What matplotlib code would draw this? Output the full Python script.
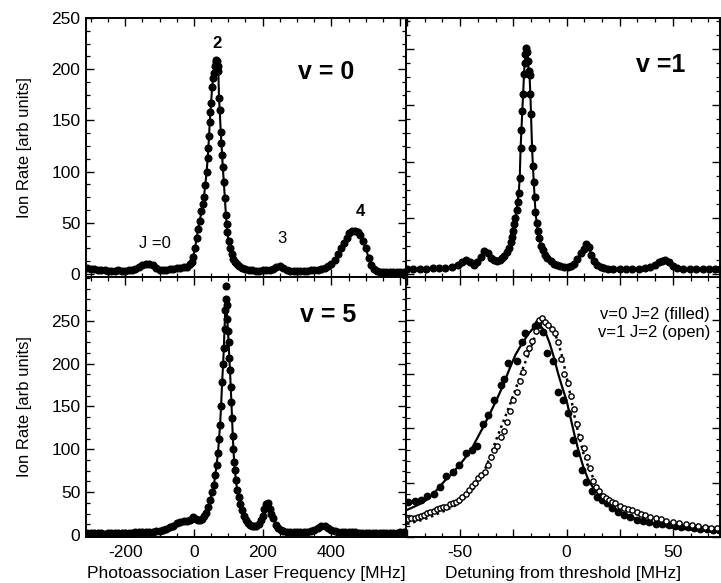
import numpy as np
import matplotlib
matplotlib.use('Agg')
import matplotlib.pyplot as plt
from matplotlib.ticker import MultipleLocator, FuncFormatter

plt.rcParams['font.family'] = ['Liberation Sans', 'DejaVu Sans']

# ========== data ==========
# v = 0 spectrum (top left), x in MHz
v0_x = [-310, -300, -290, -280, -270, -260, -250, -240, -230, -220, -210, -200, -190, -180, -170,
        -160, -150, -140, -130, -120, -110, -100, -90, -80, -70, -60, -50, -40, -30, -20, -12, -7,
        -2, 3, 8, 12, 17, 22, 26, 29, 33, 37, 40, 42, 44, 46, 48, 50, 53, 56, 58, 61, 63, 65, 67,
        69, 71, 73, 75, 78, 80, 82, 84, 87, 90, 93, 95, 97, 101, 105, 110, 115, 120, 124, 130, 140,
        150, 160, 170, 180, 190, 200, 210, 220, 230, 240, 250, 260, 270, 280, 290, 300, 310, 320,
        330, 340, 350, 360, 370, 380, 390, 400, 410, 420, 428, 436, 444, 452, 460, 468, 476, 484,
        492, 500, 508, 516, 524, 532, 540, 550, 560, 570, 580, 590, 600, 610]
v0_y = [6, 5, 5, 4, 4, 4, 3, 3, 3, 4, 3, 3, 4, 4, 5,
        7, 9, 10, 10, 9, 6, 4, 4, 4, 5, 5, 6, 6, 7, 7, 10, 12,
        17, 25, 35, 44, 52, 61, 68, 75, 87, 100, 113, 123, 135, 148, 158, 167, 183, 191, 196, 203, 207, 209, 208,
        203, 198, 172, 160, 139, 128, 116, 104, 90, 74, 58, 49, 41, 32, 25, 19, 15, 12, 10, 8, 6,
        5, 4, 4, 3, 3, 4, 4, 4, 5, 7, 8, 6, 4, 3, 3, 3, 3, 3,
        3, 4, 4, 4, 5, 6, 8, 10, 14, 19, 25, 30, 35, 40, 42, 42, 41, 38,
        32, 25, 16, 9, 5, 3, 2, 2, 2, 2, 2, 2, 2, 2]

# v = 1 spectrum (top right), detuning in MHz
v1_x = [-75, -72, -69, -66, -63, -60, -57, -54, -51, -49, -47.3, -45.5, -43.7, -42, -40.3, -38.7, -37,
        -35.5, -34, -32.7, -31.5, -30.3, -29.2, -28, -27, -26.2, -25.6, -25, -24.5, -24, -23.5, -23,
        -22.5, -22, -21.6, -21.2, -20.8, -20.4, -20, -19.7, -19.3, -18.9, -18.5, -18.1, -17.8, -17.4,
        -17, -16.7, -16.2, -15.8, -15.4, -15, -14.6, -14, -13.5, -12.8, -12, -11, -10, -9, -7.5, -6,
        -4.4, -3, -1.3, 0.5, 2, 3.5, 5, 6.6, 8, 9.3, 10.5, 11.6, 13, 14.5, 16, 17.5, 19.5, 22, 25, 28,
        31, 34, 37, 39.5, 41.5, 43.5, 45, 46.5, 48, 50, 52, 55, 58, 61, 64, 67, 70, 72]
v1_y = [4, 4, 4, 4, 5, 5, 5, 6, 8, 10, 12, 10, 8, 10, 15, 20, 18,
        14, 12, 11, 12, 14, 16, 19, 23, 28, 33, 38, 44, 50, 57, 64,
        72, 85, 112, 128, 145, 160, 178, 188, 196, 201, 198, 190, 181, 177,
        160, 142, 112, 96, 82, 68, 55, 45, 38, 32, 25, 21, 17, 14, 11, 9,
        8, 7, 6, 6, 7, 9, 13, 18, 22, 26, 24, 17, 11, 8, 6, 5, 4, 4, 4, 4,
        4, 4, 5, 6, 8, 10, 11, 12, 10, 7, 5, 4, 4, 4, 4, 4, 4, 4]

# v = 5 spectrum (bottom left), x in MHz
v5_x = [-310, -300, -290, -280, -270, -260, -250, -240, -230, -220, -210, -200, -190, -180, -170, -160,
        -150, -140, -130, -120, -110, -100, -90, -80, -70, -60, -50, -40, -30, -20, -10, -2, 5, 12, 18,
        24, 30, 36, 42, 48, 53, 58, 62, 66, 70, 73, 76, 79, 82, 85, 87, 89, 91, 93, 95, 97, 99, 101,
        103, 105, 107, 109, 111, 113, 115, 117, 119, 122, 126, 130, 135, 140, 146, 152, 158, 164, 170,
        176, 182, 188, 194, 200, 205, 210, 215, 220, 225, 231, 238, 245, 252, 260, 270, 280, 290, 300,
        310, 320, 330, 340, 350, 360, 370, 380, 390, 400, 410, 420, 430, 440, 450, 460, 470, 480, 490,
        500, 510, 520, 530, 540, 550, 560, 570, 580, 590, 600, 610]
v5_y = [2, 2, 2, 2, 2, 1, 2, 2, 2, 2, 2, 2, 2, 2, 3, 3,
        3, 3, 4, 4, 5, 5, 6, 7, 9, 11, 14, 15, 16, 16, 18, 21, 19, 17, 17,
        19, 22, 26, 33, 41, 50, 58, 70, 82, 96, 112, 128, 150, 178, 200, 218, 240, 262, 275, 268, 252, 238, 225,
        206, 192, 173, 155, 136, 115, 100, 85, 76, 64, 52, 44, 36, 29, 22, 17, 14, 12, 11,
        10, 11, 13, 17, 22, 30, 36, 37, 30, 24, 20, 12, 8, 6, 5, 4, 3, 3, 3,
        3, 3, 4, 5, 6, 8, 10, 10, 8, 6, 5, 4, 4, 3, 3, 3, 3, 2, 2,
        2, 2, 2, 2, 2, 2, 2, 2, 2, 2, 3, 4]
v5_out_x = [92]
v5_out_y = [290]

# threshold comparison (bottom right), normalised
fill_x = [-74.5, -71.5, -68.5, -65.5, -62.5, -59.5, -56.5, -53.5, -50.5, -47.5, -44.5, -42, -39.5, -37,
          -34, -31, -29.5, -27.5, -23.5, -21, -19.5, -15, -13.4, -11, -9.4, -6.3, -3.9, -1.6, 0.8, 3.2,
          4.7, 7.1, 9.4, 12, 14.2, 16.5, 19, 21.5, 24, 27, 30, 33, 36, 39, 42, 45, 48, 51, 54, 57, 60,
          63, 66, 69, 71.5]
fill_y = [0.16, 0.165, 0.17, 0.19, 0.20, 0.23, 0.28, 0.30, 0.33, 0.385, 0.40, 0.42, 0.52, 0.56,
          0.63, 0.70, 0.73, 0.80, 0.81, 0.90, 0.94, 0.97, 0.985, 0.946, 0.846, 0.81, 0.67, 0.63, 0.57, 0.447,
          0.386, 0.31, 0.255, 0.21, 0.186, 0.17, 0.155, 0.135, 0.115, 0.10, 0.09, 0.08, 0.072, 0.067, 0.062, 0.058, 0.054, 0.051, 0.048, 0.044, 0.04,
          0.038, 0.035, 0.033, 0.031]
open_x = [-74.5, -73, -71.5, -70, -68.5, -67, -65.5, -64, -62.5, -61, -59.5, -58, -56.5, -55, -53.5,
          -52, -50.5, -49, -47.5, -46, -44.5, -43, -41.5, -40, -38.5, -37, -35.5, -34, -32.5, -31,
          -29.5, -28, -26.5, -25, -23.5, -22, -20.5, -19, -17.5, -16, -14.5, -13, -11.5, -10, -8.5,
          -7, -5.5, -4, -2.5, -1, 0.5, 2, 3.5, 5, 6.5, 8, 9.5, 11, 12.5, 14, 15.5, 17, 18.5, 20,
          21.5, 23, 25, 27, 29, 31, 33, 35, 37, 39.5, 42, 44.5, 47, 50, 53, 56, 59, 62, 65, 68, 71]
open_y = [0.085, 0.088, 0.086, 0.09, 0.095, 0.10, 0.11, 0.115, 0.12, 0.13, 0.135, 0.14, 0.14, 0.15, 0.155,
          0.163, 0.17, 0.185, 0.20, 0.215, 0.235, 0.25, 0.27, 0.285, 0.30, 0.33, 0.37, 0.40, 0.42, 0.46,
          0.49, 0.53, 0.58, 0.63, 0.67, 0.72, 0.76, 0.85, 0.87, 0.905, 0.95, 1.0, 1.01, 0.99, 0.975,
          0.96, 0.94, 0.90, 0.82, 0.75, 0.71, 0.65, 0.59, 0.52, 0.46, 0.41, 0.37, 0.32, 0.26, 0.23, 0.21, 0.19, 0.18, 0.17,
          0.16, 0.155, 0.145, 0.135, 0.128, 0.124, 0.115, 0.107, 0.10, 0.094, 0.088, 0.082, 0.076, 0.07, 0.065, 0.06, 0.055, 0.05, 0.046, 0.043, 0.04]
fitA_x = [-75, -72, -69, -66, -63, -60, -57, -54, -51, -48, -45, -42, -39, -36, -33, -30, -27, -24, -21,
          -18, -15, -13.5, -12, -10, -8, -6, -4, -2, 0, 2, 4, 6, 8, 10, 12, 14, 16, 18, 20, 23, 26, 29,
          32, 36, 40, 44, 48, 52, 56, 60, 64, 68, 72]
fitA_y = [0.125, 0.138, 0.152, 0.17, 0.195, 0.228, 0.262, 0.29, 0.325, 0.36, 0.40, 0.455, 0.51, 0.57,
          0.63, 0.695, 0.77, 0.84, 0.89, 0.935, 0.97, 0.977, 0.97, 0.945, 0.895, 0.83, 0.755, 0.69, 0.63,
          0.545, 0.46, 0.385, 0.32, 0.27, 0.235, 0.21, 0.19, 0.165, 0.15, 0.13, 0.113, 0.098, 0.086, 0.072,
          0.062, 0.054, 0.047, 0.041, 0.036, 0.032, 0.029, 0.027, 0.025]
fitB_x = [-75, -72, -69, -66, -63, -60, -57, -54, -51, -48, -45, -42, -39, -36, -33, -30, -27, -24, -21,
          -18, -15, -12.5, -10, -8, -6, -4, -2, 0, 2, 4, 6, 8, 10, 12, 14, 16, 18, 20, 23, 26, 29, 32,
          36, 40, 44, 48, 52, 56, 60, 64, 68, 72]
fitB_y = [0.06, 0.068, 0.076, 0.085, 0.097, 0.11, 0.122, 0.137, 0.152, 0.18, 0.21, 0.245, 0.295, 0.37,
          0.45, 0.525, 0.60, 0.68, 0.765, 0.84, 0.92, 0.965, 0.98, 0.977, 0.95, 0.90, 0.83, 0.74, 0.645,
          0.545, 0.46, 0.385, 0.33, 0.285, 0.235, 0.205, 0.18, 0.165, 0.15, 0.135, 0.122, 0.11, 0.095,
          0.082, 0.072, 0.062, 0.055, 0.049, 0.043, 0.039, 0.035, 0.032]

left_labels = [-200, 0, 200, 400]

# ========== figure ==========
W, H = 721, 583
fig = plt.figure(figsize=(W / 100, H / 100), dpi=100)


def box(x0, y0, x1, y1):
    return [x0 / W, 1 - y1 / H, (x1 - x0) / W, (y1 - y0) / H]


ax_tl = fig.add_axes(box(86, 18, 406, 277))
ax_tr = fig.add_axes(box(406, 18, 720, 277))
ax_bl = fig.add_axes(box(86, 277, 406, 537))
ax_br = fig.add_axes(box(406, 277, 720, 537))

kw_line = dict(color='black', lw=1.5, marker='o', ms=4.8, mfc='black', mec='black')

ax_tl.plot(v0_x, v0_y, **kw_line)
ax_tr.plot(v1_x, v1_y, **kw_line)
ax_bl.plot(v5_x, v5_y, **kw_line)
ax_bl.plot(v5_out_x, v5_out_y, 'o', color='black', ms=4.8)

ax_br.plot(fitA_x, fitA_y, color='black', lw=1.6)
ax_br.plot(fitB_x, fitB_y, color='black', lw=1.8, linestyle=(0, (1, 1.5)))
ax_br.plot(fill_x, fill_y, 'o', color='black', ms=4.6)
ax_br.plot(open_x, open_y, 'o', mfc='white', mec='black', mew=1.0, ms=3.8)

for ax in (ax_tl, ax_bl):
    ax.set_xlim(-314, 617)
    ax.xaxis.set_major_locator(MultipleLocator(200))
    ax.xaxis.set_minor_locator(MultipleLocator(50))
    ax.yaxis.set_major_locator(MultipleLocator(50))
    ax.yaxis.set_minor_locator(MultipleLocator(12.5))
for ax in (ax_tr, ax_br):
    ax.set_xlim(-75.5, 72.2)
    ax.xaxis.set_major_locator(MultipleLocator(25))
    ax.xaxis.set_minor_locator(MultipleLocator(25 / 3))

ax_tl.set_ylim(-3, 250)
ax_bl.set_ylim(-2.3, 301)
ax_bl.set_yticks([0, 50, 100, 150, 200, 250])
ax_bl.yaxis.set_minor_locator(MultipleLocator(12.5))
ax_tr.set_ylim(-3, 228)
ax_tr.yaxis.set_major_locator(MultipleLocator(50))
ax_tr.yaxis.set_minor_locator(MultipleLocator(12.5))
ax_br.set_ylim(0, 1.198)
ax_br.yaxis.set_major_locator(MultipleLocator(0.25))
ax_br.yaxis.set_minor_locator(MultipleLocator(0.05))

ax_tl.set_xticklabels([])
ax_tr.set_xticklabels([])
ax_tr.set_yticklabels([])
ax_br.set_yticklabels([])
ax_bl.xaxis.set_major_formatter(FuncFormatter(lambda v, p: '%d' % v if round(v) in left_labels else ''))
ax_br.xaxis.set_major_formatter(FuncFormatter(lambda v, p: '%d' % v if abs(v % 50) < 1e-6 else ''))

for ax in (ax_tl, ax_tr, ax_bl, ax_br):
    ax.tick_params(which='both', direction='in', top=True, right=True, labelsize=12.5)
    ax.tick_params(axis='x', pad=6)
    ax.tick_params(axis='y', pad=4)
    ax.tick_params(which='major', length=6, width=1)
    ax.tick_params(which='minor', length=3, width=0.9)
    for s in ax.spines.values():
        s.set_linewidth(1.4)

ax_tl.set_ylabel('Ion Rate [arb units]', fontsize=12)
ax_bl.set_ylabel('Ion Rate [arb units]', fontsize=12)
ax_tl.yaxis.set_label_coords(-0.17, 0.5)
ax_bl.yaxis.set_label_coords(-0.17, 0.5)
ax_bl.set_xlabel('Photoassociation Laser Frequency [MHz]', fontsize=12.5, labelpad=4)
ax_br.set_xlabel('Detuning from threshold [MHz]', fontsize=12.5, labelpad=4)

# panel labels
ax_tl.text(0.75, 0.79, 'v = 0', transform=ax_tl.transAxes, ha='center', va='center',
           fontsize=18, fontweight='bold')
ax_tr.text(0.81, 0.82, 'v =1', transform=ax_tr.transAxes, ha='center', va='center',
           fontsize=18, fontweight='bold')
ax_bl.text(0.757, 0.854, 'v = 5', transform=ax_bl.transAxes, ha='center', va='center',
           fontsize=18, fontweight='bold')

# rotational labels
ax_tl.text(66, 225, '2', ha='center', va='center', fontsize=12, fontweight='bold')
ax_tl.text(-113, 30, 'J =0', ha='center', va='center', fontsize=12)
ax_tl.text(257, 35, '3', ha='center', va='center', fontsize=12)
ax_tl.text(484, 61, '4', ha='center', va='center', fontsize=12, fontweight='bold')

ax_br.text(0.968, 0.855, 'v=0 J=2 (filled)', transform=ax_br.transAxes, ha='right', va='center', fontsize=12)
ax_br.text(0.968, 0.785, 'v=1 J=2 (open)', transform=ax_br.transAxes, ha='right', va='center', fontsize=12)

fig.savefig('out.png', dpi=100)
